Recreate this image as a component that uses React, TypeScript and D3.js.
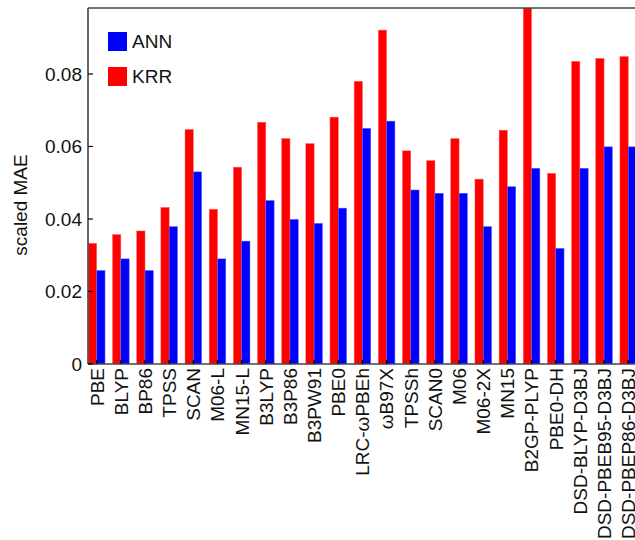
import React from "react";
import * as d3 from "d3";

const categories = [
  "PBE", "BLYP", "BP86", "TPSS", "SCAN", "M06-L", "MN15-L", "B3LYP", "B3P86", "B3PW91",
  "PBE0", "LRC-ωPBEh", "ωB97X", "TPSSh", "SCAN0", "M06", "M06-2X", "MN15", "B2GP-PLYP",
  "PBE0-DH", "DSD-BLYP-D3BJ", "DSD-PBEB95-D3BJ", "DSD-PBEP86-D3BJ",
];
const krr = [
  0.0333, 0.0357, 0.0367, 0.0432, 0.0647, 0.0427, 0.0543, 0.0667, 0.0622, 0.0608,
  0.0681, 0.0780, 0.0921, 0.0588, 0.0561, 0.0622, 0.0510, 0.0645, 0.1020,
  0.0526, 0.0835, 0.0843, 0.0848,
];
const ann = [
  0.0258, 0.0290, 0.0258, 0.0379, 0.0530, 0.0290, 0.0339, 0.0451, 0.0399, 0.0388,
  0.0430, 0.0650, 0.0670, 0.0480, 0.0471, 0.0471, 0.0379, 0.0489, 0.0540,
  0.0319, 0.0540, 0.0599, 0.0599,
];
const yTicks = [0, 0.02, 0.04, 0.06, 0.08];
const seriesNames = ["ANN", "KRR"];
const seriesColors = ["#0000ff", "#ff0000"];

const W = 635;
const H = 540;
const left = 88;
const top = 8;
const bottom = 364;
const pitch = 24.16;

export default function App() {
  const x = d3.scaleLinear().domain([-0.36, 23]).range([left, left + 23.36 * pitch]);
  const y = d3.scaleLinear().domain([0, 0.0982]).range([bottom, top]);
  const bw = 0.344 * pitch;
  const font = "'Liberation Sans', Arial, Helvetica, sans-serif";
  const axisColor = "#444";
  return (
    <svg width={W} height={H} style={{ position: "fixed", left: 0, top: 0, background: "#fff" }} fontFamily={font}>
      <defs>
        <clipPath id="plot">
          <rect x={left} y={top} width={W} height={bottom - top} />
        </clipPath>
      </defs>
      <g clipPath="url(#plot)">
        {categories.map((c, i) => (
          <g key={c}>
            <rect x={x(i) - bw} y={y(krr[i])} width={bw} height={y(0) - y(krr[i])} fill="#ff0000" stroke="#ff6666" strokeWidth={0.5} />
            <rect x={x(i)} y={y(ann[i])} width={bw} height={y(0) - y(ann[i])} fill="#0000ff" stroke="#6666ff" strokeWidth={0.5} />
          </g>
        ))}
      </g>
      {/* axes */}
      <line x1={left} x2={W} y1={top} y2={top} stroke={axisColor} strokeWidth={1.6} />
      <line x1={left} x2={W} y1={bottom} y2={bottom} stroke={axisColor} strokeWidth={1.6} />
      <line x1={left} x2={left} y1={top} y2={bottom} stroke={axisColor} strokeWidth={1.6} />
      {yTicks.map((t) => (
        <g key={t}>
          <line x1={left} x2={left + 5} y1={y(t)} y2={y(t)} stroke="#000" strokeWidth={1.2} />
          <text x={82} y={y(t)} dy="0.36em" textAnchor="end" fontSize={19} fill="#111">
            {t === 0 ? "0" : t.toFixed(2)}
          </text>
        </g>
      ))}
      {categories.map((c, i) => (
        <g key={c}>
          <line x1={x(i)} x2={x(i)} y1={bottom} y2={bottom - 4} stroke="#000" strokeWidth={1.2} />
          <text
            transform={`translate(${x(i)},${bottom + 4}) rotate(-90)`}
            textAnchor="end"
            dy="0.36em"
            fontSize={19}
            fill="#111"
          >
            {c}
          </text>
        </g>
      ))}
      <text transform={`translate(27,205) rotate(-90)`} textAnchor="middle" fontSize={19} fill="#111">
        scaled MAE
      </text>
      {seriesNames.map((s, k) => (
        <g key={s} transform={`translate(108,${32 + k * 35})`}>
          <rect x={0} y={0} width={19} height={19} fill={seriesColors[k]} />
          <text x={24} y={9.5} dy="0.36em" fontSize={19} fill="#111">
            {s}
          </text>
        </g>
      ))}
    </svg>
  );
}
